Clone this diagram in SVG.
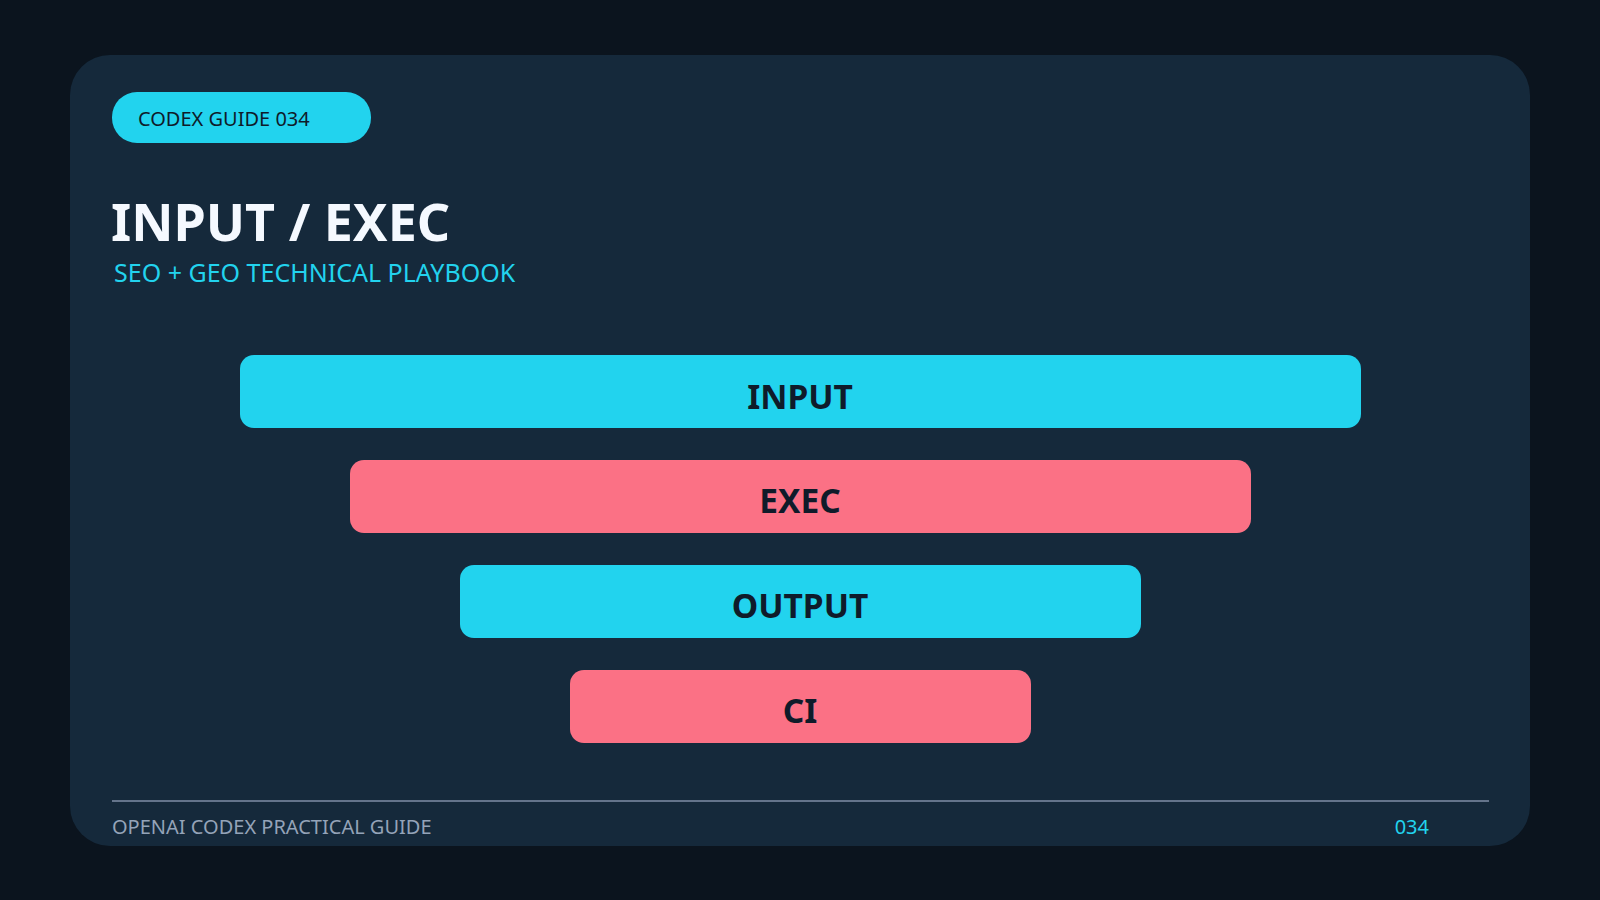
<svg xmlns="http://www.w3.org/2000/svg" width="1600" height="900" viewBox="0 0 1600 900">
<style>
.bar-label{font-family:"Noto Sans","DejaVu Sans",sans-serif;font-weight:700;font-size:33.5px;fill:#0f1b2a;text-anchor:middle}
.cyan{fill:#22d3ee}
.rose{fill:#fb7185}
</style>
<rect x="0" y="0" width="1600" height="900" fill="#0b141e"/>
<rect x="70" y="55" width="1460" height="791" rx="40" fill="#15293b"/>
<g id="badge">
<rect x="112" y="92" width="259" height="51" rx="25" class="cyan"/>
<text x="138" y="125.5" font-family="Noto Sans, DejaVu Sans, sans-serif" font-size="20" fill="#0f1b2a">CODEX GUIDE 034</text>
</g>
<g id="title">
<text x="111" y="241" font-family="Noto Sans, DejaVu Sans, sans-serif" font-size="52" font-weight="700" fill="#f5f9ff">INPUT / EXEC</text>
<text x="114" y="282" font-family="Noto Sans, DejaVu Sans, sans-serif" font-size="25" fill="#22d3ee">SEO + GEO TECHNICAL PLAYBOOK</text>
</g>
<g id="node-input">
<rect x="240" y="355" width="1121" height="73" rx="14" class="cyan"/>
<text x="800" y="408.5" class="bar-label">INPUT</text>
</g>
<g id="node-exec">
<rect x="350" y="460" width="901" height="73" rx="14" class="rose"/>
<text x="800" y="512.5" class="bar-label">EXEC</text>
</g>
<g id="node-output">
<rect x="460" y="565" width="681" height="73" rx="14" class="cyan"/>
<text x="800" y="617.5" class="bar-label">OUTPUT</text>
</g>
<g id="node-ci">
<rect x="570" y="670" width="461" height="73" rx="14" class="rose"/>
<text x="800" y="722.5" class="bar-label">CI</text>
</g>
<g id="connectors"></g>
<g id="footer">
<line x1="112" y1="801" x2="1489" y2="801" stroke="#64748b" stroke-width="2"/>
<text x="112" y="834" font-family="Noto Sans, DejaVu Sans, sans-serif" font-size="20" fill="#94a3b8">OPENAI CODEX PRACTICAL GUIDE</text>
<text x="1429" y="834" text-anchor="end" font-family="Noto Sans, DejaVu Sans, sans-serif" font-size="20" fill="#22d3ee">034</text>
</g>
</svg>
